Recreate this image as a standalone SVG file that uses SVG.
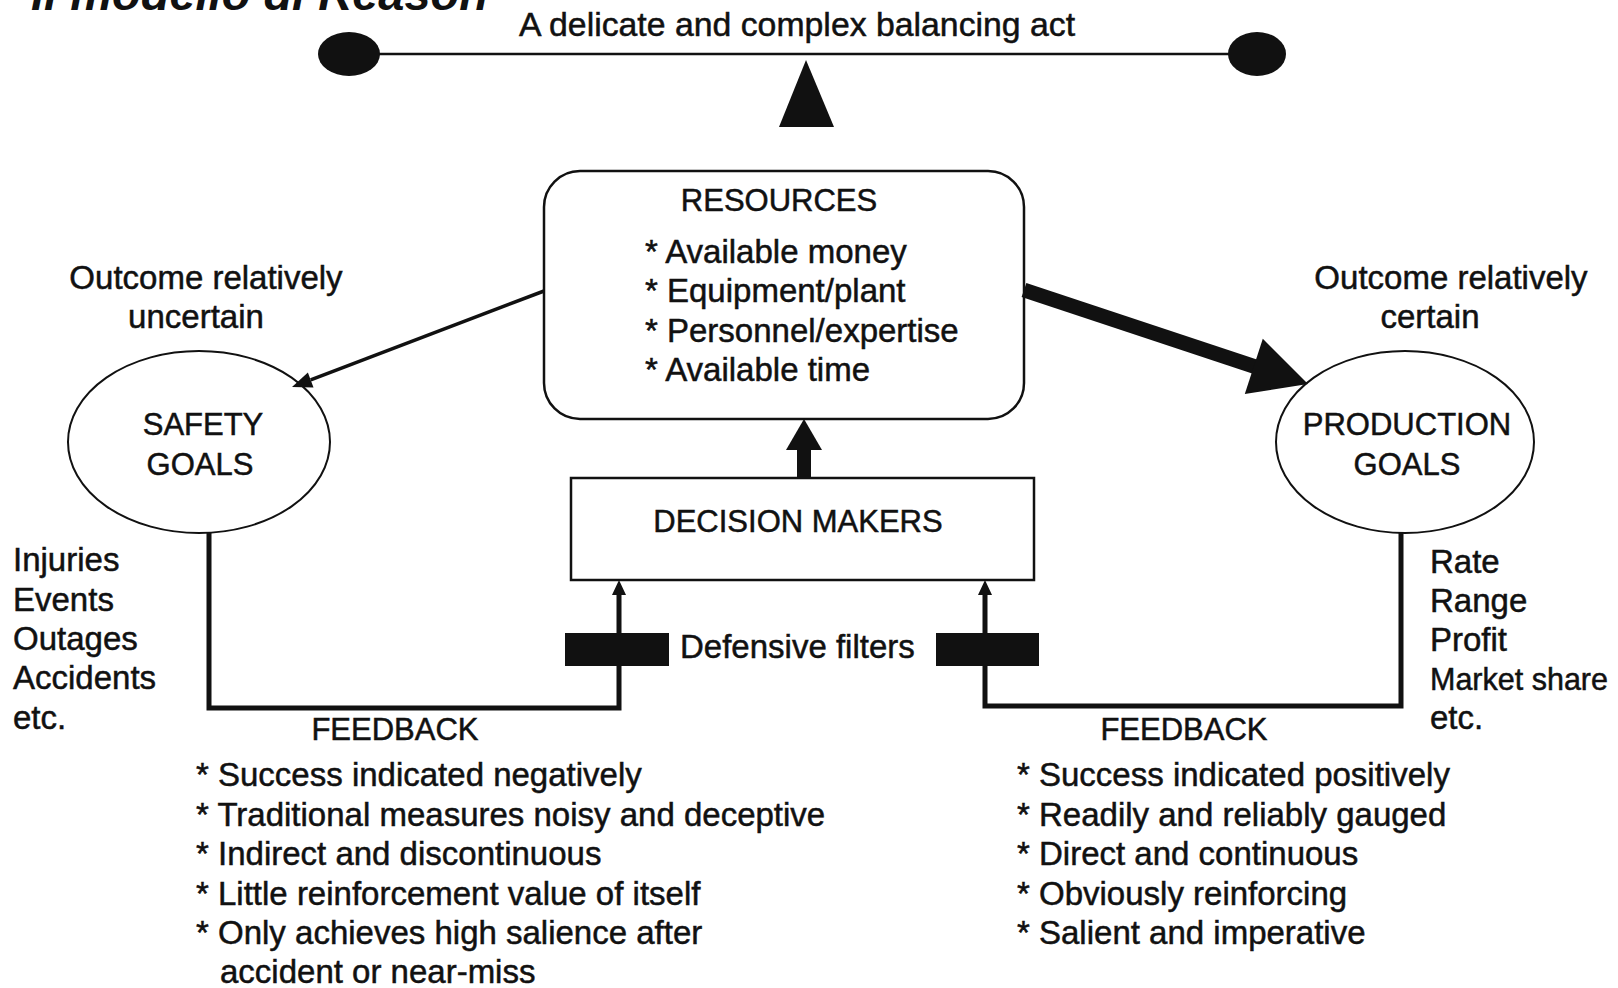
<svg xmlns="http://www.w3.org/2000/svg" width="1618" height="988" viewBox="0 0 1618 988">
<style>
  text { font-family: "Liberation Sans", Arial, sans-serif; fill: #111; stroke: #111; stroke-width: 0.5; }
  .t { font-size: 33px; }
  .h { font-size: 31px; }
  .mid { text-anchor: middle; }
  .title { font-size: 47px; font-weight: bold; font-style: italic; stroke-width: 0; }
  .box { fill: #fff; stroke: #111; stroke-width: 2.5; }
  .ell { fill: #fff; stroke: #111; stroke-width: 2; }
  .line { fill: none; stroke: #111; stroke-linejoin: miter; stroke-linecap: butt; }
  .solid { fill: #111; stroke: none; }
</style>
<rect x="0" y="0" width="1618" height="988" fill="#fff"/>

<g id="title">
  <text class="title" x="31" y="10">Il modello di Reason</text>
</g>

<g id="balance">
  <line class="line" x1="370" y1="54" x2="1240" y2="54" stroke-width="2.5"/>
  <ellipse class="solid" cx="349" cy="54" rx="31" ry="22"/>
  <ellipse class="solid" cx="1257" cy="54" rx="29" ry="22"/>
  <polygon class="solid" points="806,60 779,127 834,127"/>
  <text class="t" x="519" y="36" style="font-size:33.8px">A delicate and complex balancing act</text>
</g>

<g id="resources">
  <rect class="box" x="544" y="171" width="480" height="248" rx="36" ry="36"/>
  <text class="h mid" x="779" y="211">RESOURCES</text>
  <text class="t" x="645" y="263">* Available money</text>
  <text class="t" x="645" y="302">* Equipment/plant</text>
  <text class="t" x="645" y="342">* Personnel/expertise</text>
  <text class="t" x="645" y="381">* Available time</text>
</g>

<g id="safety-goals">
  <ellipse class="ell" cx="199" cy="442" rx="131" ry="91"/>
  <text class="h mid" x="203" y="435">SAFETY</text>
  <text class="h mid" x="200" y="475">GOALS</text>
</g>

<g id="production-goals">
  <ellipse class="ell" cx="1405" cy="442" rx="129" ry="91"/>
  <text class="h mid" x="1407" y="435">PRODUCTION</text>
  <text class="h mid" x="1407" y="475">GOALS</text>
</g>

<g id="decision-makers">
  <rect class="box" x="571" y="478" width="463" height="102"/>
  <text class="h mid" x="798" y="532">DECISION MAKERS</text>
</g>

<g id="connectors">
  <!-- resources to safety goals -->
  <line class="line" x1="544" y1="291" x2="310.7" y2="379.9" stroke-width="3.5"/>
  <polygon class="solid" points="292,387 307.9,372.4 313.5,387.4"/>
  <!-- resources to production goals (thick) -->
  <line class="line" x1="1024" y1="290" x2="1256" y2="367" stroke-width="15"/>
  <polygon class="solid" points="1308,384 1262.8,338.7 1244.8,393.9"/>
  <!-- decision makers to resources -->
  <line class="line" x1="804" y1="478" x2="804" y2="448" stroke-width="14"/>
  <polygon class="solid" points="804,419 786,450 822,450"/>
  <!-- safety feedback loop -->
  <polyline class="line" points="209,533 209,708 619,708 619,593" stroke-width="5"/>
  <polygon class="solid" points="619,580 612,595 626,595"/>
  <!-- production feedback loop -->
  <polyline class="line" points="1401,533 1401,706 985,706 985,593" stroke-width="5"/>
  <polygon class="solid" points="985,580 978,595 992,595"/>
</g>

<g id="defensive-filters">
  <rect class="solid" x="565" y="633" width="104" height="33"/>
  <rect class="solid" x="936" y="633" width="103" height="33"/>
  <text class="t" x="680" y="658">Defensive filters</text>
</g>

<g id="outcome-labels">
  <text class="t mid" x="206" y="289">Outcome relatively</text>
  <text class="t mid" x="196" y="328">uncertain</text>
  <text class="t mid" x="1451" y="289">Outcome relatively</text>
  <text class="t mid" x="1430" y="328">certain</text>
</g>

<g id="safety-measures">
  <text class="t" x="13" y="571">Injuries</text>
  <text class="t" x="13" y="611">Events</text>
  <text class="t" x="13" y="650">Outages</text>
  <text class="t" x="13" y="689">Accidents</text>
  <text class="t" x="13" y="729">etc.</text>
</g>

<g id="production-measures">
  <text class="t" x="1430" y="573">Rate</text>
  <text class="t" x="1430" y="612">Range</text>
  <text class="t" x="1430" y="651">Profit</text>
  <text class="t" x="1430" y="690" style="font-size:30.5px">Market share</text>
  <text class="t" x="1430" y="729">etc.</text>
</g>

<g id="safety-feedback">
  <text class="h mid" x="395" y="740">FEEDBACK</text>
  <text class="t" x="196" y="786">* Success indicated negatively</text>
  <text class="t" x="196" y="826">* Traditional measures noisy and deceptive</text>
  <text class="t" x="196" y="865">* Indirect and discontinuous</text>
  <text class="t" x="196" y="905">* Little reinforcement value of itself</text>
  <text class="t" x="196" y="944">* Only achieves high salience after</text>
  <text class="t" x="220" y="983">accident or near-miss</text>
</g>

<g id="production-feedback">
  <text class="h mid" x="1184" y="740">FEEDBACK</text>
  <text class="t" x="1017" y="786">* Success indicated positively</text>
  <text class="t" x="1017" y="826">* Readily and reliably gauged</text>
  <text class="t" x="1017" y="865">* Direct and continuous</text>
  <text class="t" x="1017" y="905">* Obviously reinforcing</text>
  <text class="t" x="1017" y="944">* Salient and imperative</text>
</g>
</svg>
